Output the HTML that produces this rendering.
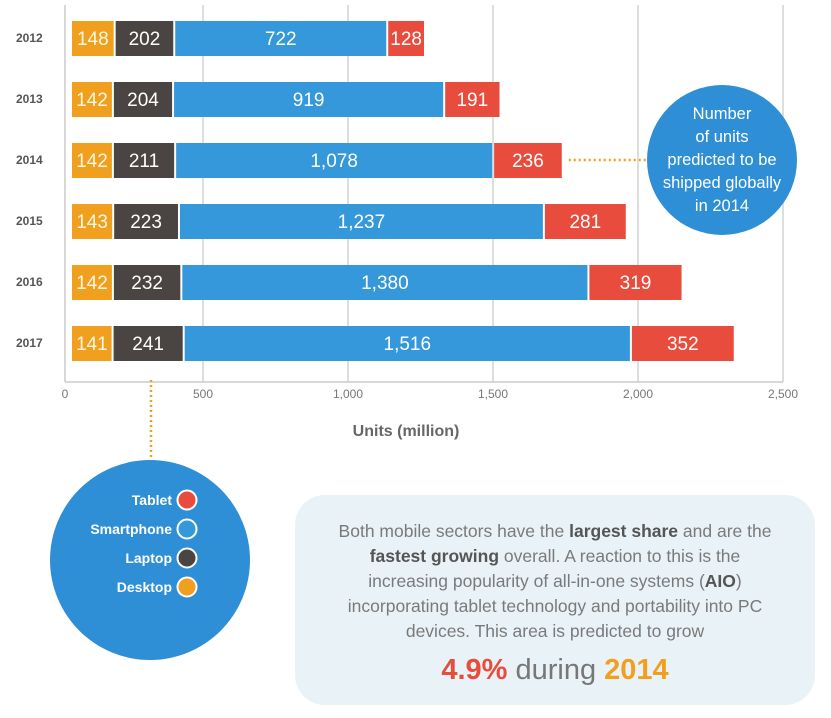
<!DOCTYPE html>
<html><head><meta charset="utf-8"><style>
body{margin:0;background:#fff;font-family:"Liberation Sans",sans-serif;}
#wrap{position:relative;width:831px;height:718px;overflow:hidden;}
</style></head><body>
<div id="wrap">
<svg id="chart" width="831" height="718" style="position:absolute;left:0;top:0;z-index:1;"></svg>
<div style="position:absolute;z-index:2;left:647px;top:85px;width:150px;height:150px;border-radius:50%;background:#2f8fd6;color:#fff;font-size:16.5px;line-height:23px;text-align:center;display:flex;align-items:center;justify-content:center;"><div>Number<br>of units<br>predicted to be<br>shipped globally<br>in 2014</div></div>
<div style="position:absolute;z-index:0;left:50px;top:460px;width:200px;height:200px;border-radius:50%;background:#2f8fd6;"></div>
<div style="position:absolute;z-index:2;left:295px;top:495px;width:520px;height:210px;border-radius:30px;background:#e9f2f7;color:#7a7a7a;font-size:17.5px;line-height:25px;text-align:center;">
<div style="padding-top:24px;">Both mobile sectors have the <b style="color:#555">largest share</b> and are the<br><b style="color:#555">fastest growing</b> overall. A reaction to this is the<br>increasing popularity of all-in-one systems (<b style="color:#555">AIO</b>)<br>incorporating tablet technology and portability into PC<br>devices. This area is predicted to grow</div>
<div style="font-size:29px;margin-top:14px;color:#777;"><b style="color:#e74c3c">4.9%</b> during <b style="color:#f0a01e">2014</b></div>
</div>
</div>
<script>
const years=["2012","2013","2014","2015","2016","2017"];
const desktop=[148,142,142,143,142,141];
const laptop=[202,204,211,223,232,241];
const smartphone=[722,919,1078,1237,1380,1516];
const tablet=[128,191,236,281,319,352];
const ticks=[0,500,1000,1500,2000,2500];
const tickLabels=["0","500","1,000","1,500","2,000","2,500"];
const legendNames=["Tablet","Smartphone","Laptop","Desktop"];
const NS="http://www.w3.org/2000/svg";
const svg=document.getElementById('chart');
function mk(t,a,p){const e=document.createElementNS(NS,t);for(const k in a)e.setAttribute(k,a[k]);(p||svg).appendChild(e);return e;}
const xBar=v=>71+v*0.295;
const xAxis=v=>58+v*0.29;
const yRow=i=>38+i*61;
const colors=["#f0a01e","#4a4442","#3498db","#e74c3c"];
const series=[desktop,laptop,smartphone,tablet];
const sNames=["desktop","laptop","smartphone","tablet"];
ticks.forEach((t,i)=>{
 if(i>0){const g=mk('line',{x1:xAxis(t),x2:xAxis(t),y1:5,y2:382,stroke:'#d4d4d4','stroke-width':1.5});
 
 }
 const l=mk('text',{x:i==0?65:xAxis(t),y:398,'text-anchor':'middle','font-size':12,fill:'#777'});l.textContent=tickLabels[i];
 
 
});
const ax=mk('line',{x1:65,x2:65,y1:5,y2:382,stroke:'#ccc','stroke-width':1.5});


const bx=mk('line',{x1:65,x2:xAxis(2500),y1:382,y2:382,stroke:'#ccc','stroke-width':1.5});


const xt=mk('text',{x:406,y:436,'text-anchor':'middle','font-size':16,'font-weight':'bold',fill:'#666'});xt.textContent="Units (million)";


years.forEach((y,i)=>{
 const cy=yRow(i);
 const yl=mk('text',{x:16,y:cy+4,'font-size':12,'font-weight':'bold',fill:'#555'});yl.textContent=y;
 
 
 let acc=0;
 series.forEach((s,k)=>{
  const x0=xBar(acc),x1=xBar(acc+s[i]);acc+=s[i];
  const r=mk('rect',{x:x0+1,y:cy-17,width:x1-x0-2,height:35,fill:colors[k]});
  
  
  const t=mk('text',{x:(x0+x1)/2,y:cy+7,'text-anchor':'middle','font-size':19,fill:k==0?'#fff8e0':'#fff'});
  t.textContent=s[i].toLocaleString('en-US');
  
  
 });
});
const d1=mk('line',{x1:xBar(desktop[2]+laptop[2]+smartphone[2]+tablet[2])+6,x2:647,y1:yRow(2),y2:yRow(2),stroke:'#f0a01e','stroke-width':2.5,'stroke-dasharray':'2 3'});


const d2=mk('line',{x1:151,x2:151,y1:380,y2:460,stroke:'#f0a01e','stroke-width':2.5,'stroke-dasharray':'2 3'});


const lc=["#e74c3c","#3498db","#4a4442","#f0a01e"];
legendNames.forEach((n,i)=>{
 const y=500+i*29;
 const t=mk('text',{x:172,y:y+5,'text-anchor':'end','font-size':14,'font-weight':'bold',fill:'#fff'});t.textContent=n;
 
 
 const c=mk('circle',{cx:187,cy:y,r:9.5,fill:lc[i],stroke:'#fff','stroke-width':2});
 
 
});
</script>
</body></html>
